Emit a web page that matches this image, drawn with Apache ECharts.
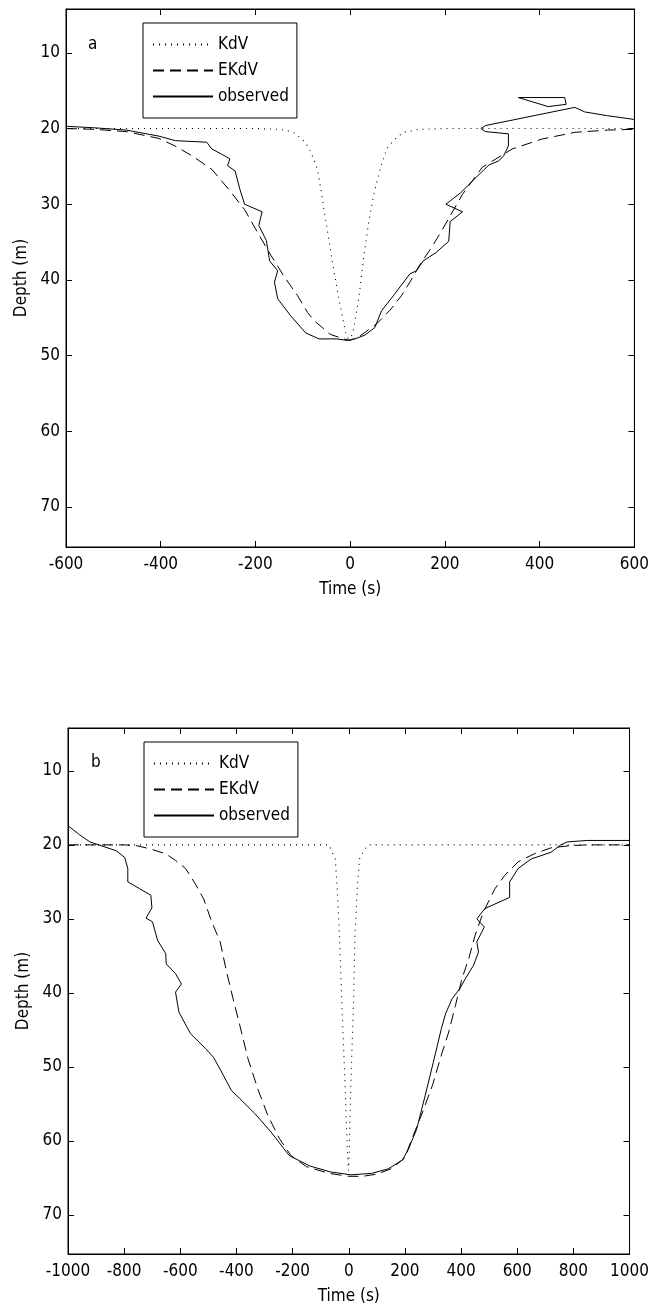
<!DOCTYPE html>
<html>
<head>
<meta charset="utf-8">
<script src="https://cdn.jsdelivr.net/npm/echarts@6/dist/echarts.min.js"></script>
<style>
  html, body { margin: 0; padding: 0; background: #fff; }
  #chart { width: 652px; height: 1309px; }
</style>
</head>
<body>
<div id="chart"></div>
<script>
// ---------- DATA (time s, depth m) ----------
var depthTicks = [10, 20, 30, 40, 50, 60, 70];

// Panel a
var kdvA = [[-600,20],[-200,20],[-150,20.1],[-132,20.3],[-118,20.6],[-104,21.3],[-94,21.9],[-83,23.1],[-69,25.4],[-61,28.4],[-52,32.0],[-42,35.9],[-35,38.6],[-24,42.5],[-14,45.6],[-10,46.9],[-4,47.8],[2,47.6],[7,46.5],[18,42.5],[28,37.2],[39,32.4],[49,28.9],[63,25.4],[77,22.7],[91,21.6],[112,20.5],[146,20.1],[200,20],[600,20]];
var ekdvA = [[-600,20.0],[-540,20.1],[-473,20.4],[-404,21.3],[-370,22.3],[-334,23.6],[-292,25.4],[-257,28.0],[-223,30.7],[-195,33.8],[-167,36.8],[-139,39.6],[-111,42.1],[-90,44.3],[-76,45.4],[-42,47.2],[-14,47.8],[0,48.0],[21,47.4],[56,45.8],[84,44.0],[108,42.1],[126,40.3],[146,38.1],[174,35.5],[195,33.3],[237,28.7],[279,25.1],[342,22.7],[404,21.4],[474,20.5],[543,20.2],[600,20.1]];
var obsA = [[-600,19.7],[-540,19.9],[-473,20.2],[-404,21.0],[-369,21.6],[-303,21.8],[-292,22.7],[-271,23.4],[-254,24.0],[-259,24.9],[-243,25.6],[-233,28.0],[-223,30.0],[-186,31.0],[-193,32.8],[-177,34.8],[-170,37.5],[-153,38.8],[-160,40.3],[-153,42.5],[-125,44.8],[-94,47.0],[-66,47.8],[-28,47.8],[-7,48.0],[10,47.8],[31,47.3],[52,46.3],[66,44.1],[91,42.1],[126,39.2],[140,38.8],[154,37.5],[181,36.4],[208,34.9],[211,32.3],[237,31.0],[202,30.0],[233,28.5],[265,26.5],[293,24.8],[313,24.3],[324,23.6],[334,22.3],[334,20.7],[285,20.4],[276,20.0],[286,19.6],[474,17.2],[495,17.8],[543,18.3],[600,18.8]];
var obsLoopA = [[355,15.9],[453,15.9],[456,16.8],[418,17.1],[355,15.9]];

// Panel b
var kdvB = [[-1000,20],[-70,20],[-60,20.9],[-48,21.9],[-42,25.5],[-33,32.2],[-25,41.2],[-13,52.5],[-5,61.5],[-1,64.0],[2,61.5],[7,52.5],[17,41.2],[22,32.2],[31,25.5],[38,21.9],[52,20.9],[69,20],[1000,20]];
var ekdvB = [[-1000,20],[-800,20],[-757,20.1],[-711,20.5],[-652,21.2],[-617,22.1],[-581,23.2],[-546,25.3],[-517,27.3],[-488,30.4],[-458,33.1],[-435,37.2],[-412,40.8],[-388,44.4],[-359,48.9],[-324,53.0],[-288,56.6],[-247,59.7],[-206,62.0],[-150,63.5],[-70,64.4],[0,64.8],[50,64.8],[100,64.5],[150,63.8],[200,62.3],[216,60.6],[263,56.1],[298,52.5],[333,48.0],[356,45.3],[380,41.7],[403,38.1],[427,35.4],[450,32.2],[479,29.1],[521,25.9],[556,24.1],[603,22.3],[661,21.2],[720,20.4],[790,20.1],[850,20],[1000,20]];
var obsB = [[-1000,17.4],[-960,18.6],[-922,19.6],[-875,20.2],[-828,20.8],[-798,21.7],[-787,23.2],[-787,25.0],[-746,25.9],[-705,26.8],[-701,28.5],[-722,29.9],[-699,30.4],[-681,32.9],[-652,34.7],[-650,36.1],[-617,37.4],[-596,38.8],[-617,39.9],[-605,42.6],[-564,45.5],[-511,47.5],[-482,48.7],[-453,50.7],[-418,53.2],[-388,54.3],[-335,56.3],[-277,58.8],[-212,62.0],[-139,63.4],[-66,64.2],[8,64.6],[81,64.4],[140,63.8],[191,62.6],[213,61.1],[242,58.4],[272,53.9],[301,49.4],[330,44.8],[345,42.8],[368,40.8],[396,39.4],[415,38.1],[444,36.3],[462,34.5],[456,33.1],[483,31.1],[456,30.0],[485,28.6],[573,27.1],[573,25.0],[603,23.2],[650,21.9],[720,21.0],[755,20.0],[778,19.6],[849,19.4],[1000,19.4]];

// ---------- CHART ----------
var FONT = "'DejaVu Sans Condensed', 'Liberation Sans', sans-serif";
var FS = 17;
var INK = '#000';
var chart = echarts.init(document.getElementById('chart'), null, {renderer: 'canvas'});

function plain(v) { return String(v); }

function xAxes(gi, mn, mx) {
  var base = {
    gridIndex: gi, type: 'value', min: mn, max: mx, interval: 200,
    splitLine: {show: false},
    axisLine: {show: true, onZero: false, lineStyle: {color: INK, width: 1}},
    axisTick: {show: true, inside: true, length: 6, lineStyle: {color: INK}}
  };
  var bottom = Object.assign({}, base, {
    position: 'bottom',
    axisLabel: {show: true, margin: 9, color: INK, fontFamily: FONT, fontSize: FS, formatter: plain},
    name: 'Time (s)', nameLocation: 'middle', nameGap: 34,
    nameTextStyle: {color: INK, fontFamily: FONT, fontSize: FS}
  });
  var top = Object.assign({}, base, {position: 'top', axisLabel: {show: false}});
  return [bottom, top];
}
function yAxes(gi) {
  var base = {
    gridIndex: gi, type: 'value', inverse: true, min: 4.2, max: 75.3,
    splitLine: {show: false},
    axisLine: {show: true, onZero: false, lineStyle: {color: INK, width: 1}},
    axisTick: {show: true, inside: true, length: 6, customValues: depthTicks, lineStyle: {color: INK}}
  };
  var left = Object.assign({}, base, {
    position: 'left',
    axisLabel: {show: true, margin: 6, customValues: depthTicks, color: INK, fontFamily: FONT, fontSize: FS, formatter: plain},
    name: 'Depth (m)', nameLocation: 'middle', nameGap: 34,
    nameTextStyle: {color: INK, fontFamily: FONT, fontSize: FS}
  });
  var right = Object.assign({}, base, {position: 'right', axisLabel: {show: false}});
  return [left, right];
}

var dotted = {color: INK, width: 1.1, type: [1, 5]};
var dashed = {color: INK, width: 1, type: [11, 6]};
var solid = {color: INK, width: 1, type: 'solid'};

function ser(name, data, ls, xi, yi) {
  return {
    name: name, type: 'line', data: data, xAxisIndex: xi, yAxisIndex: yi,
    showSymbol: false, symbol: 'none', lineStyle: ls, color: INK,
    animation: false, silent: true, clip: true
  };
}

function legend(left, top) {
  return {
    data: ['KdV', 'EKdV', 'observed'],
    orient: 'vertical', left: left, top: top,
    itemWidth: 60, itemHeight: 14, itemGap: 9,
    padding: [13, 8, 13, 9],
    borderColor: INK, borderWidth: 1, backgroundColor: '#fff',
    itemStyle: {opacity: 0},
    textStyle: {color: INK, fontFamily: FONT, fontSize: FS},
    selectedMode: false
  };
}

var option = {
  backgroundColor: '#fff',
  animation: false,
  grid: [
    {left: 66, top: 9, width: 573, height: 538, show: true, borderColor: INK, borderWidth: 1, backgroundColor: '#fff'},
    {left: 68, top: 728, width: 568, height: 526, show: true, borderColor: INK, borderWidth: 1, backgroundColor: '#fff'}
  ],
  xAxis: xAxes(0, -600, 600).concat(xAxes(1, -1000, 1000)),
  yAxis: yAxes(0).concat(yAxes(1)),
  legend: [legend(143, 23), legend(144, 742)],
  series: [
    ser('KdV', kdvA, dotted, 0, 0),
    ser('EKdV', ekdvA, dashed, 0, 0),
    ser('observed', obsA, solid, 0, 0),
    ser('observed', obsLoopA, solid, 0, 0),
    ser('KdV', kdvB, dotted, 2, 2),
    ser('EKdV', ekdvB, dashed, 2, 2),
    ser('observed', obsB, solid, 2, 2)
  ],
  graphic: [
    {type: 'text', left: 88, top: 36, style: {text: 'a', fill: INK, font: FS + 'px ' + FONT}},
    {type: 'text', left: 91, top: 754, style: {text: 'b', fill: INK, font: FS + 'px ' + FONT}}
  ]
};
chart.setOption(option);
</script>
</body>
</html>
